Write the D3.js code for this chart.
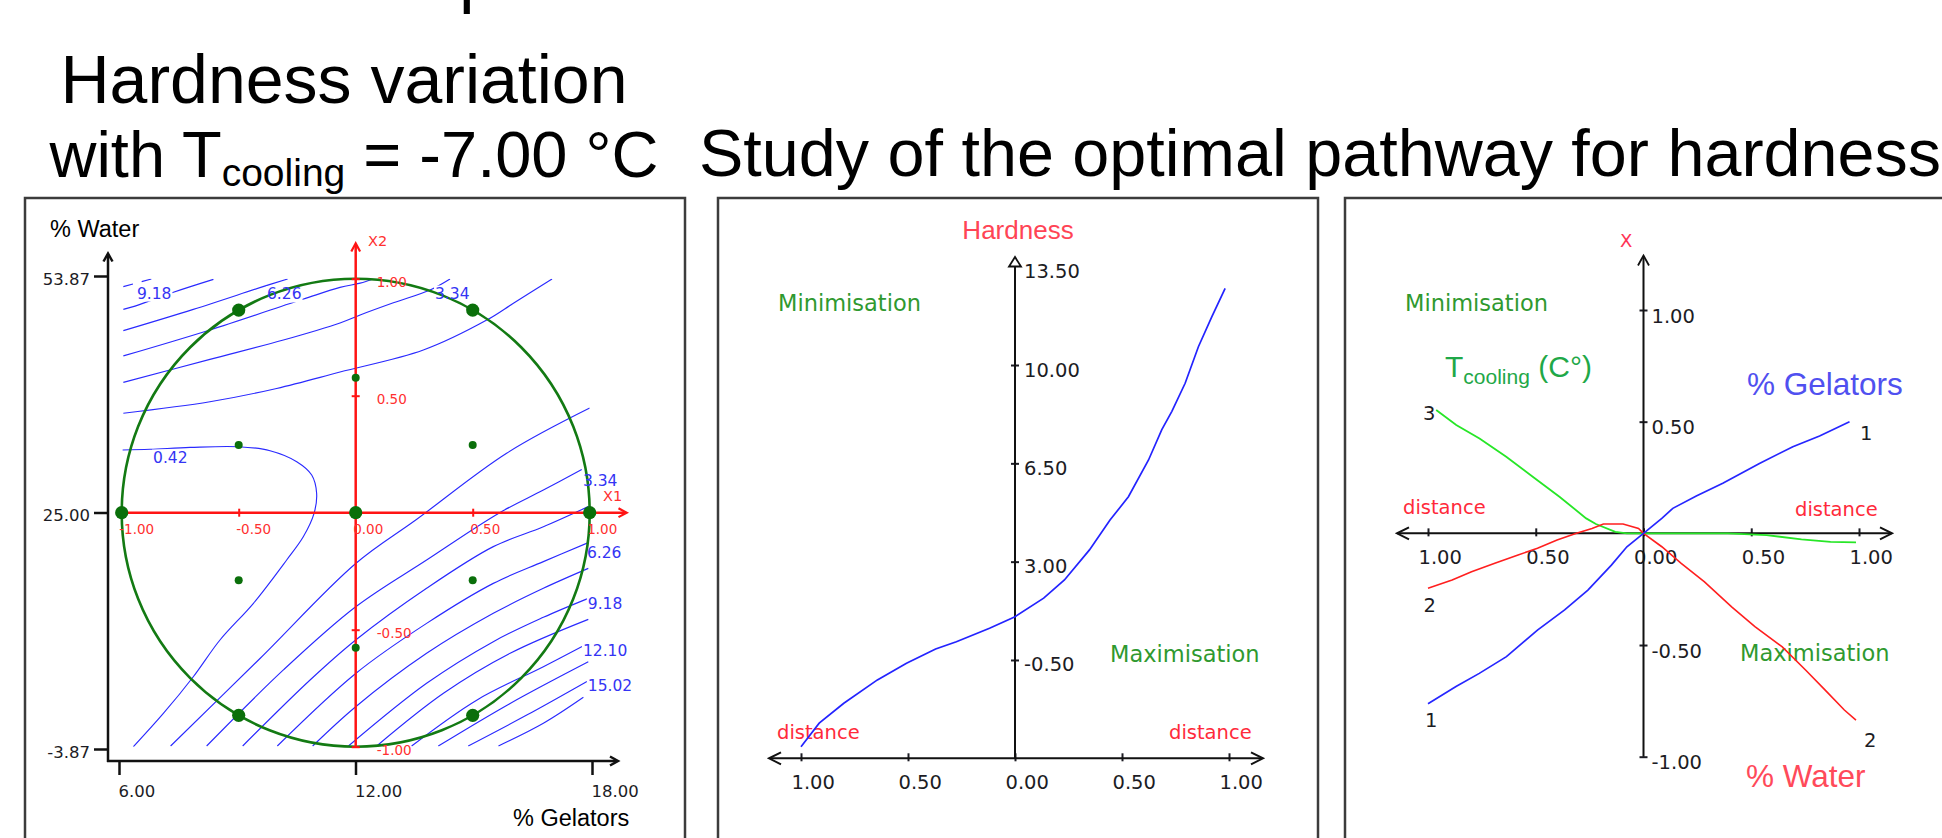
<!DOCTYPE html>
<html>
<head>
<meta charset="utf-8">
<script src="https://cdn.jsdelivr.net/npm/d3@7/dist/d3.min.js"></script>
<style>
  html, body { margin: 0; padding: 0; background: #ffffff; overflow: hidden; }
  svg { display: block; }
</style>
</head>
<body>
<svg id="chart" width="1942" height="838" viewBox="0 0 1942 838"></svg>
<script>
// ======================= DATA =======================
// Titles
const titleLeft1 = "Hardness variation";
const titleLeftPre = "with T", titleLeftSub = "cooling", titleLeftPost = " = -7.00 °C";
const titleRight = "Study of the optimal pathway for hardness";

// ---- Left panel: response surface (real axes + coded axes) ----
const gelatorTicks = [6.00, 12.00, 18.00];        // % Gelators
const waterTicks   = [-3.87, 25.00, 53.87];       // % Water
const codedTicksX1 = [-1, -0.5, 0, 0.5, 1];
const codedTicksX2 = [-1, -0.5, 0.5, 1];
// Doehlert design points (coded X1, X2)
const designMain = [[-1,0],[1,0],[0,0],[-0.5,0.866],[0.5,0.866],[-0.5,-0.866],[0.5,-0.866]];
const designProj = [[0,0.577],[0,-0.577],[-0.5,0.289],[0.5,0.289],[-0.5,-0.289],[0.5,-0.289]];

// Iso-hardness lines, in coded units (X1, X2)
const iso042  = [[-0.996,0.268],[-0.879,0.271],[-0.708,0.279],[-0.501,0.282],[-0.366,0.265],[-0.252,0.218],[-0.188,0.161],[-0.167,0.083],[-0.178,-0.003],[-0.224,-0.103],[-0.295,-0.202],[-0.437,-0.387],[-0.580,-0.544],[-0.694,-0.701],[-0.822,-0.858],[-0.950,-1.0]];
const iso188a = [[-0.993,0.425],[-0.623,0.474],[-0.338,0.531],[-0.067,0.601],[0.289,0.695],[0.560,0.823],[0.674,0.895],[0.839,0.999]];
const iso188b = [[-0.791,-0.997],[-0.409,-0.623],[0,-0.217],[0.261,-0.028],[0.645,0.254],[1.0,0.447]];
const iso334a = [[-0.993,0.557],[-0.623,0.655],[-0.309,0.738],[-0.067,0.811],[0.019,0.845],[0.161,0.897],[0.318,0.952],[0.403,0.999]];
const iso334b = [[-0.637,-0.997],[-0.309,-0.672],[0,-0.402],[0.303,-0.202],[0.610,-0.003],[0.802,0.097],[0.966,0.185]];
const iso480a = [[-0.993,0.670],[-0.623,0.781],[-0.226,0.912],[-0.067,0.963],[0.019,0.981],[0.075,0.999]];
const iso480b = [[-0.483,-0.997],[-0.195,-0.715],[0,-0.544],[0.303,-0.323],[0.588,-0.145],[0.802,-0.060],[0.994,0.026]];
const iso626a = [[-0.993,0.778],[-0.694,0.869],[-0.396,0.966],[-0.291,0.999]];
const iso626b = [[-0.335,-0.997],[0,-0.687],[0.303,-0.473],[0.588,-0.302],[0.802,-0.209],[0.994,-0.128]];
const iso772a = [[-0.993,0.869],[-0.943,0.883],[-0.779,0.942],[-0.608,0.997]];
const iso772b = [[-0.184,-0.997],[0,-0.829],[0.303,-0.601],[0.588,-0.430],[0.802,-0.323],[0.994,-0.238]];
const iso918a = [[-0.993,0.966],[-0.872,0.999]];
const iso918b = [[-0.031,-0.997],[0.303,-0.729],[0.588,-0.551],[0.802,-0.447],[0.994,-0.366]];
const iso1064 = [[0.090,-0.997],[0.375,-0.772],[0.660,-0.601],[0.994,-0.456]];
const iso1210 = [[0.239,-0.997],[0.517,-0.801],[0.802,-0.658],[0.994,-0.558]];
const iso1356 = [[0.353,-0.997],[0.660,-0.815],[0.994,-0.637]];
const iso1502 = [[0.481,-0.997],[0.731,-0.865],[0.994,-0.718]];
const iso1648 = [[0.610,-0.997],[0.802,-0.900],[0.973,-0.789]];
const isoLines = [iso042, iso188a, iso188b, iso334a, iso334b, iso480a, iso480b, iso626a, iso626b,
                  iso772a, iso772b, iso918b, iso1064, iso1210, iso1356, iso1502, iso1648];
const isoDashed = [iso918a];
// contour labels: level, X1, X2 (label left edge / vertical centre)
const isoLabelLevels = [9.18, 6.26, 3.34, 0.42, 3.34, 6.26, 9.18, 12.10, 15.02];
const isoLabelX1 = [-0.935, -0.379, 0.339, -0.866, 0.971, 0.988, 0.992, 0.971, 0.992];
const isoLabelX2 = [0.939, 0.935, 0.939, 0.238, 0.140, -0.168, -0.386, -0.587, -0.736];

// ---- Middle panel: hardness along the optimal path ----
const distTicks = [-1, -0.5, 0, 0.5, 1];
const hardnessTicks = [-0.5, 3.0, 6.5, 10.0, 13.5];
const hardnessPath = [[-1.0,-3.59],[-0.915,-2.75],[-0.80,-2.04],[-0.643,-1.21],[-0.507,-0.62],[-0.371,-0.11],
  [-0.274,0.15],[-0.119,0.63],[0.0,1.04],[0.134,1.70],[0.231,2.35],[0.348,3.42],[0.444,4.48],[0.530,5.31],
  [0.624,6.62],[0.686,7.70],[0.733,8.35],[0.795,9.35],[0.857,10.65],[0.920,11.72],[0.982,12.73]];

// ---- Right panel: coded factor values along the path ----
const xTicksRight = [-1, -0.5, 0.5, 1];
const gelatorsPath = [[-1.0,-0.763],[-0.870,-0.686],[-0.762,-0.627],[-0.636,-0.552],[-0.492,-0.433],[-0.366,-0.343],
  [-0.258,-0.254],[-0.149,-0.142],[-0.077,-0.060],[0,0],[0.085,0.067],[0.136,0.112],[0.245,0.167],[0.368,0.224],
  [0.538,0.313],[0.693,0.388],[0.817,0.436],[0.956,0.500]];
const waterPath = [[-1.0,-0.246],[-0.888,-0.209],[-0.798,-0.172],[-0.690,-0.134],[-0.582,-0.097],[-0.492,-0.067],
  [-0.401,-0.030],[-0.311,0.0],[-0.239,0.022],[-0.186,0.042],[-0.095,0.042],[-0.023,0.022],[0,0],[0.085,-0.060],
  [0.175,-0.134],[0.283,-0.217],[0.409,-0.329],[0.517,-0.418],[0.644,-0.508],[0.752,-0.612],[0.842,-0.701],
  [0.932,-0.791],[0.986,-0.836]];
const coolingPath = [[-0.962,0.552],[-0.869,0.485],[-0.761,0.425],[-0.637,0.343],[-0.514,0.253],[-0.390,0.164],
  [-0.266,0.067],[-0.221,0.042],[-0.131,0.007],[-0.077,0.0],[0,0],[0.39,0],[0.571,-0.008],[0.733,-0.027],
  [0.868,-0.038],[0.986,-0.040]];

// ======================= DRAWING =======================
const svg = d3.select("#chart");
const SANS = "'Liberation Sans', Arial, Helvetica, sans-serif";
const TAH = "'DejaVu Sans', Verdana, sans-serif";
const INK = "#1c1c24";
const f2 = d => d.toFixed(2);

function txt(g, x, y, s, size, fill, family, anchor) {
  return g.append("text").attr("x", x).attr("y", y).attr("font-size", size)
    .attr("font-family", family || SANS).attr("fill", fill || "#000")
    .attr("text-anchor", anchor || "start").text(s);
}
function stroke(sel, color, w) {
  return sel.attr("fill", "none").attr("stroke", color).attr("stroke-width", w)
    .attr("stroke-linejoin", "miter").attr("stroke-linecap", "butt");
}

// ---- titles ----
txt(svg, 459, -1, "p", 70);
txt(svg, 344, 103, titleLeft1, 68, "#000", SANS, "middle");
const t2 = svg.append("text").attr("x", 354).attr("y", 177).attr("font-size", 65)
  .attr("font-family", SANS).attr("text-anchor", "middle").attr("fill", "#000");
t2.append("tspan").text(titleLeftPre);
t2.append("tspan").attr("font-size", 39).attr("dy", 9).text(titleLeftSub);
t2.append("tspan").attr("dy", -9).text(titleLeftPost);
txt(svg, 1320, 176, titleRight, 66.5, "#000", SANS, "middle");

// ---- panel frames ----
stroke(svg.append("rect").attr("x", 25).attr("y", 198).attr("width", 660).attr("height", 700), "#3c3c3c", 2.5);
stroke(svg.append("rect").attr("x", 718).attr("y", 198).attr("width", 600).attr("height", 700), "#3c3c3c", 2.5);
stroke(svg.append("rect").attr("x", 1345).attr("y", 198).attr("width", 700).attr("height", 700), "#3c3c3c", 2.5);

// ================= LEFT PANEL =================
const xReal = d3.scaleLinear().domain([6, 18]).range([119, 592]);
const yReal = d3.scaleLinear().domain([-3.87, 53.87]).range([749, 276]);
const xC = d3.scaleLinear().domain([-1, 1]).range([121.7, 589.7]);
const yC = d3.scaleLinear().domain([-1, 1]).range([746.7, 278.7]);
const p1 = svg.append("g");

// real axes
const axY = p1.append("g").attr("transform", "translate(108,0)")
  .call(d3.axisLeft(yReal).tickValues(waterTicks).tickSize(14).tickPadding(4).tickFormat(f2));
axY.select(".domain").remove();
axY.selectAll(".tick line").attr("stroke", "#111").attr("stroke-width", 2.5);
axY.selectAll(".tick text").attr("font-family", TAH).attr("font-size", 16.5).attr("fill", INK).attr("dy", "0.5em");
const axX = p1.append("g").attr("transform", "translate(0,761)")
  .call(d3.axisBottom(xReal).tickValues(gelatorTicks).tickSize(14).tickFormat(f2));
axX.select(".domain").remove();
axX.selectAll(".tick line").attr("stroke", "#111").attr("stroke-width", 2.5);
axX.selectAll(".tick text").attr("y", 36).attr("dy", null).attr("x", -1).attr("text-anchor", "start")
  .attr("font-family", TAH).attr("font-size", 16.5).attr("fill", INK);
stroke(p1.append("path").attr("d", "M108,762V255 M107,761H616"), "#111", 2.5);
stroke(p1.append("path").attr("d", "M103.5,261.5L108,253.5L112.5,261.5"), "#111", 2.5);
stroke(p1.append("path").attr("d", "M610,756.5L618,761L610,765.5"), "#111", 2.5);
txt(p1, 50, 237, "% Water", 23.5);
txt(p1, 513, 826, "% Gelators", 23.5);

// contour lines
const defs = svg.append("defs");
defs.append("clipPath").attr("id", "codedClip").append("rect")
  .attr("x", xC(-1)).attr("y", yC(1)).attr("width", xC(1) - xC(-1)).attr("height", yC(-1) - yC(1));
const gIso = p1.append("g").attr("clip-path", "url(#codedClip)");
const isoLine = d3.line().x(d => xC(d[0])).y(d => yC(d[1])).curve(d3.curveCatmullRom.alpha(0.5));
isoLines.forEach(pts => stroke(gIso.append("path").attr("d", isoLine(pts)), "#2a2aff", 1.15));
isoDashed.forEach(pts => stroke(gIso.append("path").attr("d", isoLine(pts)), "#2a2aff", 1.15).attr("stroke-dasharray", "10,9"));

const gBoxes = p1.append("g");
const gCircle = p1.append("g");
const gIsoLab = p1.append("g");
isoLabelLevels.forEach((lv, i) => {
  const t = txt(gIsoLab, xC(isoLabelX1[i]), yC(isoLabelX2[i]), f2(lv), 15.5, "#3434f4", TAH).attr("dy", "0.36em");
  const bb = t.node().getBBox();
  gBoxes.append("rect").attr("x", bb.x - 1).attr("y", bb.y + 1).attr("width", bb.width + 2).attr("height", bb.height - 2).attr("fill", "#fff");
});
// experimental domain circle
stroke(gCircle.append("ellipse").attr("cx", xC(0)).attr("cy", yC(0))
  .attr("rx", xC(1) - xC(0)).attr("ry", yC(-1) - yC(0)), "#137a13", 2.6);

// coded red axes
const RED = "#ff1414", REDT = "#ff3030";
stroke(p1.append("path").attr("d", `M${xC(-1)},${yC(0)}H626`), RED, 2.5);
stroke(p1.append("path").attr("d", `M${xC(0)},${yC(-1) + 1}V244`), RED, 2.5);
stroke(p1.append("path").attr("d", "M618.5,508.3L626.7,512.7L618.5,517.1"), RED, 2.2);
stroke(p1.append("path").attr("d", "M351.3,251.5L355.7,243.3L360.1,251.5"), RED, 2.2);
const rx = p1.append("g").attr("transform", `translate(0,${yC(0)})`)
  .call(d3.axisBottom(xC).tickValues(codedTicksX1).tickFormat(f2));
rx.select(".domain").remove();
rx.selectAll(".tick line").attr("y1", -4).attr("y2", 4).attr("stroke", RED).attr("stroke-width", 2);
rx.selectAll(".tick text").attr("x", -3).attr("y", 21.6).attr("dy", null).attr("text-anchor", "start")
  .attr("fill", REDT).attr("font-family", TAH).attr("font-size", 13.5);
const ry = p1.append("g").attr("transform", `translate(${xC(0)},0)`)
  .call(d3.axisRight(yC).tickValues(codedTicksX2).tickFormat(f2));
ry.select(".domain").remove();
ry.selectAll(".tick line").attr("x1", -4).attr("x2", 4).attr("stroke", RED).attr("stroke-width", 2);
ry.selectAll(".tick text").attr("x", 21).attr("y", 7.5).attr("dy", null).attr("text-anchor", "start")
  .attr("fill", REDT).attr("font-family", TAH).attr("font-size", 13.5);
txt(p1, 603, 500.7, "X1", 14.5, REDT, TAH);
txt(p1, 368, 246, "X2", 14.5, REDT, TAH);

// design points
p1.append("g").selectAll("circle.big").data(designMain).join("circle")
  .attr("cx", d => xC(d[0])).attr("cy", d => yC(d[1])).attr("r", 6.6).attr("fill", "#0a6f0a");
p1.append("g").selectAll("circle.small").data(designProj).join("circle")
  .attr("cx", d => xC(d[0])).attr("cy", d => yC(d[1])).attr("r", 4).attr("fill", "#0a6f0a");

// ================= MIDDLE PANEL =================
const xD = d3.scaleLinear().domain([-1, 1]).range([801, 1229]);
const yH = d3.scaleLinear().domain([-4, 13.5]).range([758.3, 266.7]);
const p2 = svg.append("g");
const GREEN_T = "#2f992f";
const TICKSZ = 19.5;
txt(p2, 1018, 239, "Hardness", 26, "#ff4455", SANS, "middle");
txt(p2, 778, 311, "Minimisation", 22.5, GREEN_T, TAH);
txt(p2, 1110, 662, "Maximisation", 22.5, GREEN_T, TAH);
txt(p2, 777, 739, "distance", 19.5, "#ff2a3a", TAH);
txt(p2, 1169, 739, "distance", 19.5, "#ff2a3a", TAH);

const mx = p2.append("g").attr("transform", `translate(0,${yH(-4)})`)
  .call(d3.axisBottom(xD).tickValues(distTicks).tickFormat(d => f2(Math.abs(d))));
mx.select(".domain").remove();
mx.selectAll(".tick line").attr("y1", -5).attr("y2", 3).attr("stroke", INK).attr("stroke-width", 2);
mx.selectAll(".tick text").attr("x", -10).attr("y", 31).attr("dy", null).attr("text-anchor", "start")
  .attr("font-family", TAH).attr("font-size", TICKSZ).attr("fill", INK);
const my = p2.append("g").attr("transform", `translate(${xD(0)},0)`)
  .call(d3.axisRight(yH).tickValues(hardnessTicks).tickFormat(f2));
my.select(".domain").remove();
my.selectAll(".tick line").attr("x1", -4).attr("x2", 4).attr("stroke", INK).attr("stroke-width", 2)
  .filter(d => d === 13.5).remove();
my.selectAll(".tick text").attr("x", 9).attr("y", 11).attr("dy", null).attr("text-anchor", "start")
  .attr("font-family", TAH).attr("font-size", TICKSZ).attr("fill", INK);
stroke(p2.append("path").attr("d", `M770,${yH(-4)}H1262 M${xD(0)},${yH(-4)}V266`), "#111", 2);
stroke(p2.append("path").attr("d", `M781,${yH(-4) - 6}L769,${yH(-4)}L781,${yH(-4) + 6} M1251,${yH(-4) - 6}L1263,${yH(-4)}L1251,${yH(-4) + 6}`), "#111", 2);
p2.append("path").attr("d", `M${xD(0)},257L${xD(0) - 6},266.5H${xD(0) + 6}Z`).attr("fill", "#fff").attr("stroke", "#111").attr("stroke-width", 1.8);
const hLine = d3.line().x(d => xD(d[0])).y(d => yH(d[1]));
stroke(p2.append("path").attr("d", hLine(hardnessPath)), "#2323ff", 1.7);

// ================= RIGHT PANEL =================
const xD2 = d3.scaleLinear().domain([-1, 1]).range([1428, 1859]);
const yX = d3.scaleLinear().domain([-1, 1]).range([756.7, 310]);
const p3 = svg.append("g");
txt(p3, 1620, 247, "X", 18, "#ff3355", TAH);
txt(p3, 1405, 311, "Minimisation", 22.5, GREEN_T, TAH);
txt(p3, 1740, 661, "Maximisation", 22.5, GREEN_T, TAH);
txt(p3, 1403, 514, "distance", 19.5, "#ff2a3a", TAH);
txt(p3, 1795, 515.5, "distance", 19.5, "#ff2a3a", TAH);
const tc = p3.append("text").attr("x", 1445).attr("y", 376.7).attr("font-size", 30)
  .attr("font-family", SANS).attr("fill", "#1fa848");
tc.append("tspan").text("T");
tc.append("tspan").attr("font-size", 21).attr("dy", 7).text("cooling");
tc.append("tspan").attr("dy", -7).text(" (C°)");
txt(p3, 1747, 395, "% Gelators", 31.5, "#5050f0");
txt(p3, 1746, 787, "% Water", 31.5, "#ff4a5a");

const rxA = p3.append("g").attr("transform", `translate(0,${yX(0)})`)
  .call(d3.axisBottom(xD2).tickValues(distTicks).tickFormat(d => f2(Math.abs(d))));
rxA.select(".domain").remove();
rxA.selectAll(".tick line").attr("y1", -5).attr("y2", 3).attr("stroke", INK).attr("stroke-width", 2);
rxA.selectAll(".tick text").attr("x", -10).attr("y", 31).attr("dy", null).attr("text-anchor", "start")
  .attr("font-family", TAH).attr("font-size", TICKSZ).attr("fill", INK);
const ryA = p3.append("g").attr("transform", `translate(${xD2(0)},0)`)
  .call(d3.axisRight(yX).tickValues(xTicksRight).tickFormat(f2));
ryA.select(".domain").remove();
ryA.selectAll(".tick line").attr("x1", -4).attr("x2", 4).attr("stroke", INK).attr("stroke-width", 2);
ryA.selectAll(".tick text").attr("x", 8).attr("y", 12).attr("dy", null).attr("text-anchor", "start")
  .attr("font-family", TAH).attr("font-size", TICKSZ).attr("fill", INK);
stroke(p3.append("path").attr("d", `M1397,${yX(0)}H1892 M${xD2(0)},${yX(-1)}V256`), "#111", 2);
stroke(p3.append("path").attr("d", `M1409,${yX(0) - 6}L1397,${yX(0)}L1409,${yX(0) + 6} M1880,${yX(0) - 6}L1892,${yX(0)}L1880,${yX(0) + 6}`), "#111", 2);
stroke(p3.append("path").attr("d", `M${xD2(0) - 5.5},265.5L${xD2(0)},255.5L${xD2(0) + 5.5},265.5`), "#111", 1.8);

// end-of-line numbers
txt(p3, 1423, 419.5, "3", TICKSZ, INK, TAH);
txt(p3, 1423.5, 612, "2", TICKSZ, INK, TAH);
txt(p3, 1425, 727, "1", TICKSZ, INK, TAH);
txt(p3, 1860, 440, "1", TICKSZ, INK, TAH);
txt(p3, 1864, 747, "2", TICKSZ, INK, TAH);

const fLine = d3.line().x(d => xD2(d[0])).y(d => yX(d[1]));
stroke(p3.append("path").attr("d", fLine(coolingPath)), "#27e627", 1.8);
stroke(p3.append("path").attr("d", fLine(waterPath)), "#ff1f1f", 1.6);
stroke(p3.append("path").attr("d", fLine(gelatorsPath)), "#2626ff", 1.7);
</script>
</body>
</html>
